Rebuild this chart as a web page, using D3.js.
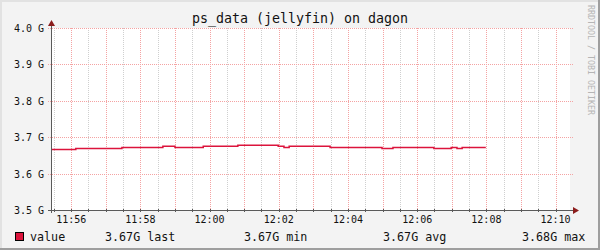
<!DOCTYPE html>
<html>
<head>
<meta charset="utf-8">
<script src="https://cdn.jsdelivr.net/npm/d3@7"></script>
<style>
  body { margin: 0; background: #f3f3f3; }
  svg { display: block; font-family: "DejaVu Sans Mono", monospace; }
</style>
</head>
<body>
<div id="chart"></div>
<script>
// step samples (value in G)
const times = ["11:55:25", "11:56:08", "11:57:28", "11:58:39", "11:59:00", "11:59:49",
  "12:00:49", "12:01:59", "12:02:09", "12:02:18", "12:03:29", "12:04:59",
  "12:05:18", "12:06:29", "12:06:59", "12:07:09", "12:07:18"];
const values = [3.666, 3.669, 3.672, 3.675, 3.672, 3.675,
  3.678, 3.675, 3.672, 3.675, 3.672, 3.669,
  3.672, 3.669, 3.672, 3.669, 3.672];
const lastTime = "12:07:59";

const yTicks = [3.5, 3.6, 3.7, 3.8, 3.9, 4.0];
const legendNames = ["last", "min", "avg", "max"];
const legendValues = [3.67, 3.67, 3.67, 3.68];

const title = "ps_data (jellyfin) on dagon";
const seriesName = "value";
const lineColor = "#dc143c";

const width = 600;
const height = 250;
const plot = { left: 51, right: 570, top: 28, bottom: 210 };

const parse = s => {
  const [h, m, sec] = s.split(":").map(Number);
  return new Date(2024, 0, 1, h, m, sec);
};

const data = times.map((t, i) => ({ t: parse(t), v: values[i] }));
data.push({ t: parse(lastTime), v: values[values.length - 1] });

const svg = d3.select("#chart").append("svg")
  .attr("width", width)
  .attr("height", height);

// frame
svg.append("rect").attr("width", width).attr("height", height).attr("fill", "#f3f3f3");
svg.append("path").attr("d", `M1,${height} V1 H${width}`)
  .attr("stroke", "#e2e2e2").attr("stroke-width", 2).attr("fill", "none");
svg.append("path").attr("d", `M0,${height - 1} H${width - 1} V0`)
  .attr("stroke", "#9e9e9e").attr("stroke-width", 2).attr("fill", "none");

const x = d3.scaleTime()
  .domain([parse("11:55:25"), parse("12:10:25")])
  .range([plot.left, plot.right]);

const y = d3.scaleLinear()
  .domain([3.5, 4.0])
  .range([plot.bottom, plot.top]);

// canvas
svg.append("rect")
  .attr("x", plot.left).attr("y", plot.top)
  .attr("width", plot.right - plot.left).attr("height", plot.bottom - plot.top)
  .attr("fill", "#ffffff");

const grid = svg.append("g").attr("fill", "none").attr("stroke-dasharray", "1,1");

// minor vertical grid every 30 s
grid.selectAll(".minor")
  .data(x.ticks(d3.timeSecond.every(30)).filter(d => d.getSeconds() !== 0))
  .join("line")
  .attr("x1", d => Math.round(x(d)) + 0.5).attr("x2", d => Math.round(x(d)) + 0.5)
  .attr("y1", plot.top).attr("y2", plot.bottom)
  .attr("stroke", "#cfcfcf");

// major vertical grid every minute
grid.selectAll(".major")
  .data(x.ticks(d3.timeMinute.every(1)))
  .join("line")
  .attr("x1", d => Math.round(x(d)) + 0.5).attr("x2", d => Math.round(x(d)) + 0.5)
  .attr("y1", plot.top).attr("y2", plot.bottom)
  .attr("stroke", "#f4a3a3");

// horizontal grid
grid.selectAll(".hgrid")
  .data(yTicks)
  .join("line")
  .attr("x1", plot.left - 3).attr("x2", plot.right + 3)
  .attr("y1", d => Math.round(y(d)) + 0.5).attr("y2", d => Math.round(y(d)) + 0.5)
  .attr("stroke", "#f4a3a3");

// y labels
svg.append("g")
  .attr("font-size", "10px")
  .attr("text-anchor", "end")
  .attr("fill", "#111")
  .selectAll("text")
  .data(yTicks)
  .join("text")
  .attr("x", plot.left - 7)
  .attr("y", d => y(d) + 4)
  .text(d => d3.format(".1f")(d) + " G");

// x labels
svg.append("g")
  .attr("font-size", "10px")
  .attr("text-anchor", "middle")
  .attr("fill", "#111")
  .selectAll("text")
  .data(x.ticks(d3.timeMinute.every(2)))
  .join("text")
  .attr("x", d => x(d))
  .attr("y", plot.bottom + 13)
  .text(d3.timeFormat("%H:%M"));

// data line
svg.append("path")
  .datum(data)
  .attr("fill", "none")
  .attr("stroke", lineColor)
  .attr("stroke-width", 1.5)
  .attr("d", d3.line().x(d => x(d.t)).y(d => y(d.v)).curve(d3.curveStepAfter));

// axes
const axisColor = "#5a5a5a";
svg.append("line")
  .attr("x1", plot.left - 3).attr("x2", plot.right + 4)
  .attr("y1", plot.bottom + 0.5).attr("y2", plot.bottom + 0.5)
  .attr("stroke", axisColor);
svg.append("line")
  .attr("x1", plot.left + 0.5).attr("x2", plot.left + 0.5)
  .attr("y1", plot.bottom + 3).attr("y2", plot.top - 4)
  .attr("stroke", axisColor);
svg.append("g").attr("stroke", axisColor)
  .selectAll("line")
  .data(x.ticks(d3.timeSecond.every(30)))
  .join("line")
  .attr("x1", d => Math.round(x(d)) + 0.5).attr("x2", d => Math.round(x(d)) + 0.5)
  .attr("y1", plot.bottom - 1).attr("y2", plot.bottom + 2);

const arrowColor = "#8b1c1c";
svg.append("path")
  .attr("d", `M${plot.right + 3},${plot.bottom - 3} L${plot.right + 9},${plot.bottom + 0.5} L${plot.right + 3},${plot.bottom + 4} Z`)
  .attr("fill", arrowColor);
svg.append("path")
  .attr("d", `M${plot.left - 3},${plot.top - 2} L${plot.left + 0.5},${plot.top - 8} L${plot.left + 4},${plot.top - 2} Z`)
  .attr("fill", arrowColor);

// title
svg.append("text")
  .attr("x", 300).attr("y", 23)
  .attr("text-anchor", "middle")
  .attr("font-size", "13.3px")
  .attr("fill", "#111")
  .text(title);

// watermark
svg.append("text")
  .attr("transform", "translate(588,5) rotate(90)")
  .attr("font-size", "8.3px")
  .attr("fill", "#b5b5b5")
  .text("RRDTOOL / TOBI OETIKER");

// legend
const legend = svg.append("g").attr("font-size", "11.7px").attr("fill", "#111");
legend.append("rect")
  .attr("x", 15.5).attr("y", 232.5).attr("width", 8).attr("height", 8)
  .attr("fill", lineColor).attr("stroke", "#000");
legend.append("text").attr("x", 30).attr("y", 241).text(seriesName);
const legendX = [105, 244, 383, 522];
legend.selectAll(".stat")
  .data(legendNames)
  .join("text")
  .attr("x", (d, i) => legendX[i])
  .attr("y", 241)
  .text((d, i) => d3.format(".2f")(legendValues[i]) + "G " + d);
</script>
</body>
</html>
